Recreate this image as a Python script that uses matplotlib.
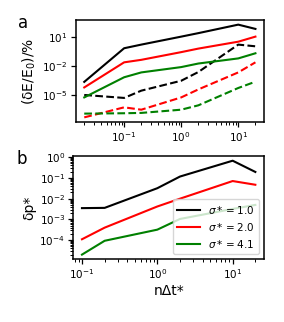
import numpy as np
import matplotlib.pyplot as plt
from matplotlib.ticker import NullLocator, LogLocator

# eixo x dos dois paineis
nt_a = [0.02, 0.1, 0.2, 1, 2, 10, 20]
nt_b = [0.1, 0.2, 1, 2, 10, 20]

sigmas = ['1.0', '2.0', '4.1']
cores = ['k', 'r', 'g']

# painel a: erro de energia (linha cheia e tracejada)
dE_cheia = [
    [2.1e-4, 0.63, 1.5, 10, 23, 174, 63],
    [5.6e-5, 0.022, 0.04, 0.25, 0.58, 3.0, 10],
    [5.2e-6, 6.3e-4, 2.0e-3, 7.1e-3, 0.0166, 0.056, 0.19],
]
dE_tracejada = [
    [9.3e-6, 4.6e-6, 2.6e-5, 2.75e-4, 2.2e-3, 1.5, 1.0],
    [4.5e-8, 4.9e-7, 2.8e-7, 5.2e-6, 3.5e-5, 2.0e-3, 0.022],
    [1.1e-7, 1.2e-7, 1.3e-7, 2.8e-7, 7.9e-7, 4.9e-5, 2.2e-4],
]
yticks_a = [1e-5, 1e-2, 1e1]

# painel b: erro de pressao
dp = [
    [3.5e-3, 3.6e-3, 0.032, 0.117, 0.68, 0.195],
    [1.1e-4, 4.0e-4, 4.2e-3, 0.010, 0.071, 0.047],
    [2.0e-5, 9.3e-5, 3.2e-4, 1.05e-3, 3.2e-3, 5.0e-3],
]
yticks_b = [1e-4, 1e-3, 1e-2, 1e-1, 1e0]

fig = plt.figure(figsize=(2.84, 3.22), dpi=100)
ax_a = fig.add_axes([0.2665, 0.6211, 0.663, 0.3168])
ax_b = fig.add_axes([0.2581, 0.1947, 0.6715, 0.3208])

for i in range(3):
    ax_a.plot(nt_a, dE_cheia[i], color=cores[i], lw=1.5)
    ax_a.plot(nt_a, dE_tracejada[i], color=cores[i], lw=1.5, ls='--')
    ax_b.plot(nt_b, dp[i], color=cores[i], lw=1.5, label=rf'$\sigma* = {sigmas[i]}$')

for ax in [ax_a, ax_b]:
    ax.set_xscale('log')
    ax.set_yscale('log')
    ax.tick_params(labelsize=7.5, length=3.5, width=0.9, pad=2.5)
    ax.tick_params(which='minor', length=2, width=0.7)
    for s in ax.spines.values():
        s.set_linewidth(1.1)

# so uma marca a cada 3 decadas no painel a
ax_a.set_yticks(yticks_a)
ax_a.yaxis.set_minor_locator(NullLocator())

# painel b com todas as decadas
ax_b.set_yticks(yticks_b)
ax_b.yaxis.set_minor_locator(LogLocator(base=10, subs=np.arange(2, 10), numticks=20))

ax_a.set_ylabel(r'(δE/E$_0$)/%', fontsize=10, labelpad=3)
ax_b.set_ylabel('δp*', fontsize=10, labelpad=2)
ax_b.set_xlabel('nΔt*', fontsize=10, labelpad=2)
ax_b.legend(loc='lower right', fontsize=7.5, handlelength=2.2)

fig.text(0.08, 0.93, 'a', fontsize=12, ha='center', va='center')
fig.text(0.075, 0.505, 'b', fontsize=12, ha='center', va='center')

plt.savefig('out.png', dpi=100)
